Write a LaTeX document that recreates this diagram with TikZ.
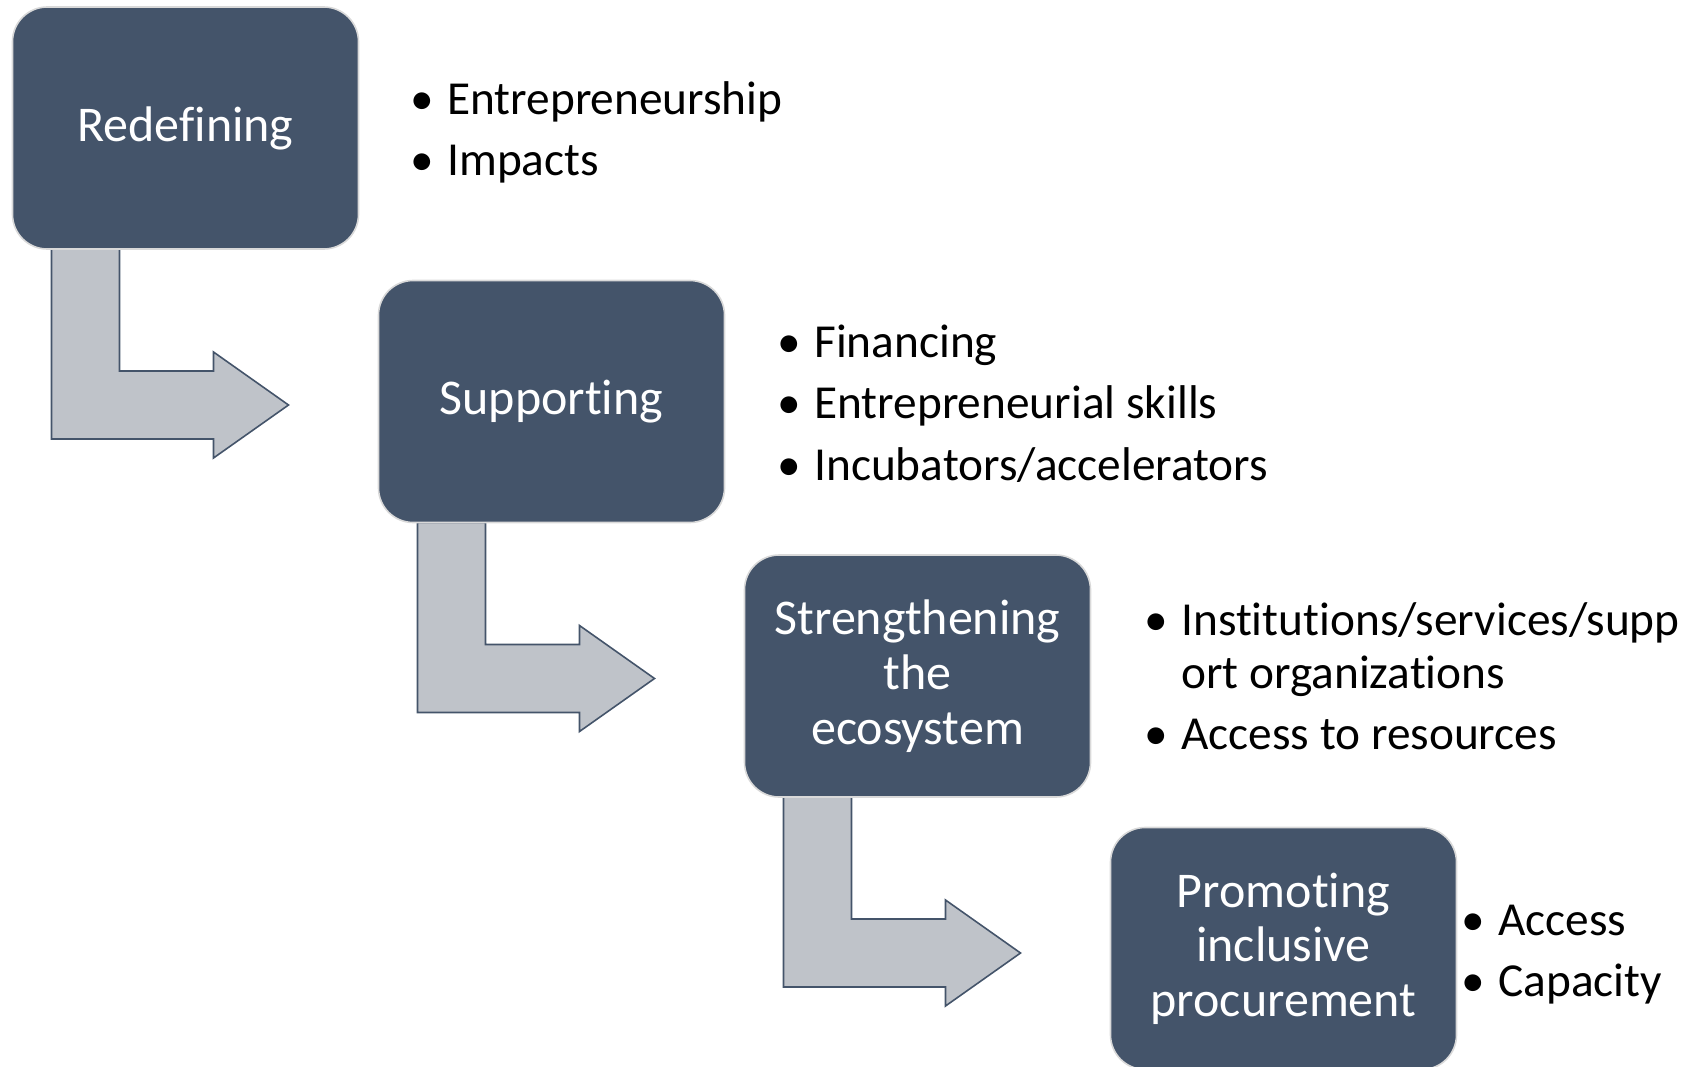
\documentclass[tikz,border=0pt]{standalone}
\usepackage{fontspec}
\setmainfont{Carlito}[Ligatures=NoCommon]
\usetikzlibrary{calc}
\pgfdeclarelayer{background}
\pgfsetlayers{background,main}
\definecolor{boxblue}{HTML}{44546A}
\definecolor{arrowgray}{HTML}{BFC3C9}
\definecolor{boxedge}{HTML}{D9D9D9}
% bullet with a fixed-width slot, and the matching indent for wrapped lines
\newcommand{\bul}{\makebox[28pt][l]{\textbullet}}
\newcommand{\bulindent}{\hspace*{28pt}}
% bent arrow hanging below a stage box and pointing right
\newcommand{\bendarrow}[1]{%
  \draw[bendarrowstyle] ($(#1.south west)+(39,0)$) -- ++(68,0) -- ++(0,122)
    -- ++(94,0) -- ++(0,-19) -- ++(75,53) -- ++(-75,53) -- ++(0,-19)
    -- ++(-162,0) -- cycle;}
\begin{document}
\begin{tikzpicture}[x=0.75pt,y=-0.75pt,
  stage/.style={draw=boxedge, fill=boxblue, line width=1.2pt,
    rounded corners=26pt, minimum width=259.5pt, minimum height=181.5pt,
    inner sep=0pt, outer sep=0pt, text=white, align=center,
    font=\fontsize{37.5}{41}\selectfont},
  points/.style={anchor=base west, inner sep=0pt, outer sep=0pt,
    font=\fontsize{35.5}{39.75}\selectfont},
  bendarrowstyle/.style={fill=arrowgray, draw=boxblue, line width=1.2pt,
    line join=miter}]
\useasboundingbox (0,0) rectangle (1688,1067);
\clip (0,0) rectangle (1688,1067);

% stage boxes
\node[stage] (b1) at (185.5,128)   {Redefining};
\node[stage] (b2) at (551.5,401.5) {Supporting};
\node[stage] (b3) at (917.5,676)   {Strengthening\\the\\ecosystem};
\node[stage] (b4) at (1283.5,948.5){Promoting\\inclusive\\procurement};

% bent arrows between consecutive stages
\begin{pgfonlayer}{background}
  \bendarrow{b1}
  \bendarrow{b2}
  \bendarrow{b3}
\end{pgfonlayer}

% bullet lists beside each stage
\node[points] (l1) at (410,114) {\begin{tabular}[t]{@{}l@{}}
  \bul Entrepreneurship\\[6.5pt]
  \bul Impacts\end{tabular}};
\node[points] (l2) at (777,357) {\begin{tabular}[t]{@{}l@{}}
  \bul Financing\\[6.5pt]
  \bul Entrepreneurial skills\\[6.5pt]
  \bul Incubators/accelerators\end{tabular}};
\node[points] (l3) at (1144,635) {\begin{tabular}[t]{@{}l@{}}
  \bul Institutions/services/supp\\
  \bulindent ort organizations\\[6.5pt]
  \bul Access to resources\end{tabular}};
\node[points] (l4) at (1461,935) {\begin{tabular}[t]{@{}l@{}}
  \bul Access\\[6.5pt]
  \bul Capacity\end{tabular}};
\end{tikzpicture}
\end{document}
